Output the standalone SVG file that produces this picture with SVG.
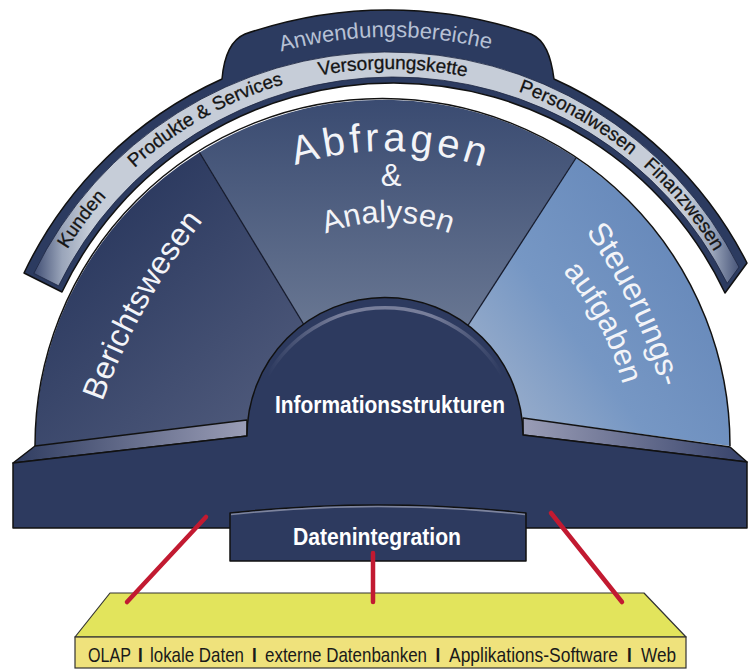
<svg xmlns="http://www.w3.org/2000/svg" width="748" height="670" viewBox="0 0 748 670">
<defs>
<style>
.ol{stroke:#111;stroke-width:1.5;stroke-linejoin:round}
.band-lbl{font-family:"Liberation Sans",Arial,sans-serif;font-size:19px;fill:#141414;stroke:#141414;stroke-width:0.3}
.tab-lbl{font-family:"Liberation Sans",Arial,sans-serif;font-size:22px;fill:#b7c1d5}
.fan-lbl{font-family:"Liberation Sans",Arial,sans-serif;fill:#f3f4f8}
.bold-lbl{font-family:"Liberation Sans",Arial,sans-serif;font-weight:bold;font-size:23px;fill:#ffffff}
.src{font-family:"Liberation Sans",Arial,sans-serif;font-size:17px;fill:#1a1a1a}
.sep{font-family:"Liberation Sans",Arial,sans-serif;font-size:17px;font-weight:bold;fill:#1a1a1a}
.red{stroke:#c21a31;stroke-width:4.5;stroke-linecap:round;fill:none}
.div{stroke:#151a2c;stroke-width:1.3;fill:none}
</style>
<linearGradient id="gLight" gradientUnits="userSpaceOnUse" x1="30" y1="0" x2="745" y2="0">
<stop offset="0" stop-color="#34426a"/><stop offset="0.045" stop-color="#9aa5ba"/><stop offset="0.085" stop-color="#c6cdd8"/>
<stop offset="0.915" stop-color="#c6cdd8"/><stop offset="0.955" stop-color="#9aa5ba"/><stop offset="1" stop-color="#34426a"/>
</linearGradient>
<linearGradient id="gLeft" gradientUnits="userSpaceOnUse" x1="110" y1="200" x2="300" y2="410">
<stop offset="0" stop-color="#2b395f"/><stop offset="1" stop-color="#505b7c"/>
</linearGradient>
<linearGradient id="gMid" gradientUnits="userSpaceOnUse" x1="0" y1="100" x2="0" y2="340">
<stop offset="0" stop-color="#3a4b71"/><stop offset="1" stop-color="#6b7994"/>
</linearGradient>
<linearGradient id="gRight" gradientUnits="userSpaceOnUse" x1="700" y1="230" x2="480" y2="390">
<stop offset="0" stop-color="#6587b9"/><stop offset="0.6" stop-color="#7697c4"/><stop offset="1" stop-color="#9aaecb"/>
</linearGradient>
<linearGradient id="gStripL" gradientUnits="userSpaceOnUse" x1="13" y1="0" x2="247" y2="0">
<stop offset="0" stop-color="#2f3c60"/><stop offset="1" stop-color="#9a9db6"/>
</linearGradient>
<linearGradient id="gStripR" gradientUnits="userSpaceOnUse" x1="523" y1="0" x2="747" y2="0">
<stop offset="0" stop-color="#9a9db6"/><stop offset="1" stop-color="#36426a"/>
</linearGradient>
<linearGradient id="gRim" gradientUnits="userSpaceOnUse" x1="268" y1="0" x2="502" y2="0">
<stop offset="0" stop-color="#8a8fa9" stop-opacity="0"/><stop offset="0.3" stop-color="#8a8fa9" stop-opacity="0.8"/>
<stop offset="0.7" stop-color="#8a8fa9" stop-opacity="0.8"/><stop offset="1" stop-color="#8a8fa9" stop-opacity="0"/>
</linearGradient>
<path id="pBand" d="M11,448 A379,379 0 0 1 769,448"/>
<path id="pTab" d="M-21,448 A411,411 0 0 1 801,448"/>
<path id="pBer" d="M73.3,510.8 A652,652 0 0 1 279.1,139.5"/>
<path id="pSteu" d="M522.7,158.1 A529.6,529.6 0 0 1 680.4,483.5"/>
<path id="pAuf" d="M527.3,235.6 A309,309 0 0 1 632.8,433.8"/>
<path id="pAbf" d="M91,446 A295,295 0 0 1 681,446"/>
<path id="pAna" d="M216,394 A172,172 0 0 1 560,394"/>
</defs>
<rect width="748" height="670" fill="#ffffff"/>

<g id="anwendungsbereiche">
<path class="ol" fill="#2c3b60" d="M24,273 A403,403 0 0 1 222,79 C224,56 231,40 245,34 A436,436 0 0 1 531,34 C545,40 551,56 554,79 A403,403 0 0 1 747,263 L725,293 A367,367 0 0 0 62,292 Z"/>
<path fill="url(#gLight)" stroke="#1c2440" stroke-width="0.8" d="M33.8,273.4 A394,394 0 0 1 739,267.1 L727.2,283.3 A373,373 0 0 0 58.6,285.8 Z"/>
<text class="tab-lbl"><textPath href="#pTab" startOffset="641" text-anchor="middle">Anwendungsbereiche</textPath></text>
<text class="band-lbl"><textPath href="#pBand" startOffset="242" text-anchor="middle">Kunden</textPath></text>
<text class="band-lbl"><textPath href="#pBand" startOffset="401" text-anchor="middle">Produkte &amp; Services</textPath></text>
<text class="band-lbl"><textPath href="#pBand" startOffset="598" text-anchor="middle">Versorgungskette</textPath></text>
<text class="band-lbl"><textPath href="#pBand" startOffset="791" text-anchor="middle">Personalwesen</textPath></text>
<text class="band-lbl"><textPath href="#pBand" startOffset="928" text-anchor="middle">Finanzwesen</textPath></text>
</g>

<g id="berichtswesen">
<path fill="url(#gLeft)" d="M35,446 A347,347 0 0 1 199.5,152.5 L335,376 L247,420 Z"/>
<text class="fan-lbl" style="font-size:32px"><textPath href="#pBer" startOffset="217" text-anchor="middle">Berichtswesen</textPath></text>
</g>

<g id="abfragen">
<path fill="url(#gMid)" d="M199.5,152.5 A347,347 0 0 1 576,158 L445,361 L335,376 Z"/>
<text class="fan-lbl" style="font-size:40px;letter-spacing:4px"><textPath href="#pAbf" startOffset="468" text-anchor="middle">Abfragen</textPath></text>
<text class="fan-lbl" x="391" y="186" text-anchor="middle" style="font-size:31px">&amp;</text>
<text class="fan-lbl" style="font-size:31px"><textPath href="#pAna" startOffset="270" text-anchor="middle">Analysen</textPath></text>
</g>

<g id="steuerungsaufgaben">
<path fill="url(#gRight)" d="M576,158 A347,347 0 0 1 730,446 L523,418 L445,361 Z"/>
<text class="fan-lbl" style="font-size:32px"><textPath href="#pSteu" startOffset="184" text-anchor="middle">Steuerungs-</textPath></text>
<text class="fan-lbl" style="font-size:31px"><textPath href="#pAuf" startOffset="115" text-anchor="middle">aufgaben</textPath></text>
</g>

<g id="fan-lines">
<path class="div" d="M199.5,152.5 L335,376"/>
<path class="div" d="M576,158 L445,361"/>
<path class="ol" fill="none" d="M35,446 A347,347 0 0 1 730,446"/>
</g>

<g id="sockel">
<path class="ol" fill="url(#gStripL)" d="M35,446 L247,420 L247,436 L13,463 Z"/>
<path class="ol" fill="url(#gStripR)" d="M523,418 L730,447 L747,462 L523,435 Z"/>
<path class="ol" fill="#2d3a5f" d="M13,463 L247,436 A138,138 0 0 1 523,435 L747,462 L747,528 L13,528 Z"/>
</g>

<g id="informationsstrukturen">
<path fill="none" stroke="url(#gRim)" stroke-width="3.5" d="M267.7,375.3 A135.5,135.5 0 0 1 502.3,375.3"/>
<text class="bold-lbl" x="275" y="413" textLength="230" lengthAdjust="spacingAndGlyphs">Informationsstrukturen</text>
</g>

<g id="datenintegration">
<path class="ol" fill="#2d3a5f" d="M230,513 Q378,497 526,513 L526,561 L230,561 Z"/>
<path fill="none" stroke="#7d849e" stroke-width="1.5" d="M231,514.5 Q378,498.5 525,514.5"/>
<text class="bold-lbl" x="293" y="545" textLength="168" lengthAdjust="spacingAndGlyphs">Datenintegration</text>
</g>

<g id="datenquellen">
<path fill="#e2e45c" stroke="#333" stroke-width="1.2" stroke-linejoin="round" d="M110,593 L644,593 L686,637 L75,637 Z"/>
<rect x="75" y="637" width="611" height="31" fill="#efe27c" stroke="#333" stroke-width="1.2"/>
<g transform="matrix(1,0,0,1.2,0,-132.4)">
<text class="src" x="88" y="662" textLength="43" lengthAdjust="spacingAndGlyphs">OLAP</text>
<text class="sep" x="138" y="662">I</text>
<text class="src" x="150" y="662" textLength="94" lengthAdjust="spacingAndGlyphs">lokale Daten</text>
<text class="sep" x="252" y="662">I</text>
<text class="src" x="265" y="662" textLength="162" lengthAdjust="spacingAndGlyphs">externe Datenbanken</text>
<text class="sep" x="435.5" y="662">I</text>
<text class="src" x="449" y="662" textLength="169" lengthAdjust="spacingAndGlyphs">Applikations-Software</text>
<text class="sep" x="627" y="662">I</text>
<text class="src" x="641" y="662" textLength="35" lengthAdjust="spacingAndGlyphs">Web</text>
</g>
</g>

<g id="connectors">
<line class="red" x1="206" y1="517" x2="127" y2="602"/>
<line class="red" x1="373" y1="553" x2="373" y2="602"/>
<line class="red" x1="551" y1="513" x2="622" y2="602"/>
</g>
</svg>
